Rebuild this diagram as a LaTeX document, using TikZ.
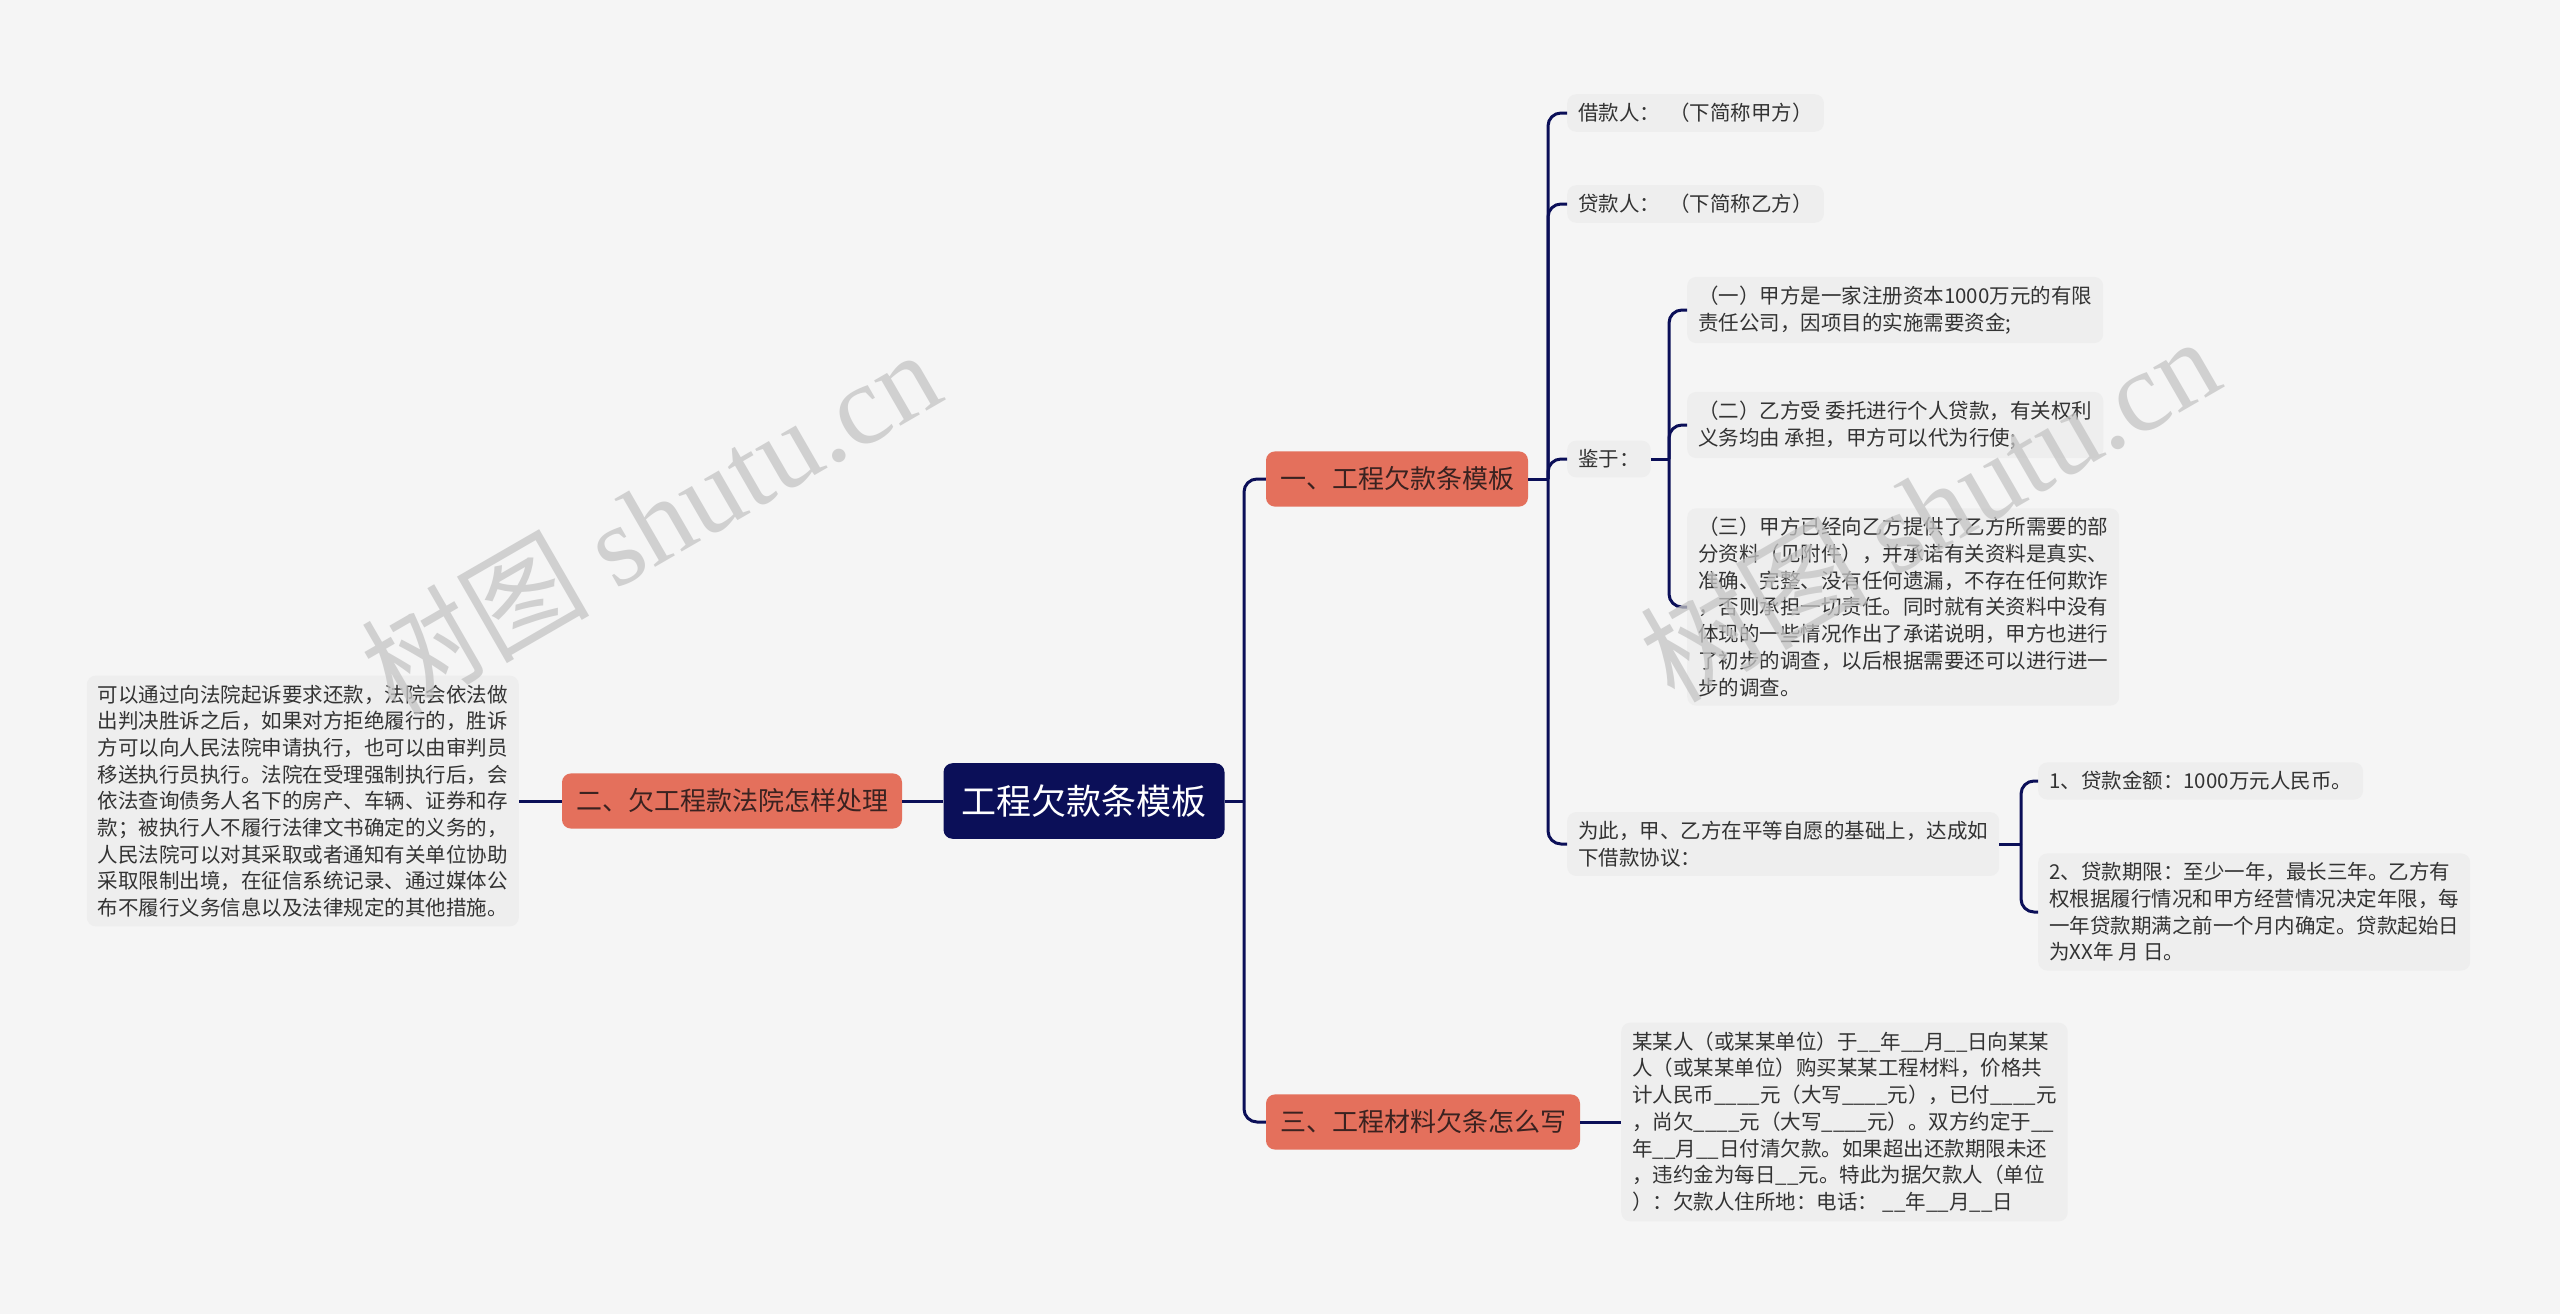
\documentclass[tikz,border=0pt]{standalone}
\usepackage{fontspec}
\setmainfont{Noto Sans CJK SC}
\newfontfamily\wmlat{Liberation Serif}
\definecolor{bgc}{HTML}{F5F5F5}
\definecolor{leafc}{HTML}{EEEEEE}
\definecolor{navy}{HTML}{0B0F58}
\definecolor{orng}{HTML}{E4705C}
\definecolor{txt}{HTML}{333333}
\definecolor{txtl1}{HTML}{3A2220}
\definecolor{wmc}{HTML}{C4C4C4}
\begin{document}
\begin{tikzpicture}[x=1pt,y=-1pt,
  leaf/.style={fill=leafc, rounded corners=9, align=left, inner xsep=11, inner ysep=9, font=\fontsize{20.5}{26.7}\selectfont, text=txt, anchor=west},
  lone/.style={fill=orng, rounded corners=9, inner xsep=14, inner ysep=15.5, font=\fontsize{26}{30}\selectfont, text=txtl1},
  rootst/.style={fill=navy, rounded corners=9, text=white, font=\fontsize{35}{40}\selectfont, inner xsep=18, inner ysep=21.5},
  conn/.style={draw=navy, line width=3, rounded corners=13},
  wm/.style={text=wmc, opacity=0.75, font=\fontsize{114}{120}\selectfont, rotate=30}]
\fill[bgc] (0,0) rectangle (2560,1314);
\useasboundingbox (0,0) rectangle (2560,1314);

% root and level 1
\node[rootst] (root) at (1084,801) {工程欠款条模板};
\node[lone] (n1) at (1397,479) {一、工程欠款条模板};
\node[lone] (n2) at (732,801) {二、欠工程款法院怎样处理};
\node[lone] (n3) at (1423,1122) {三、工程材料欠条怎么写};

% left leaf
\node[leaf, anchor=east] (L) at (519,801) {可以通过向法院起诉要求还款，法院会依法做\\出判决胜诉之后，如果对方拒绝履行的，胜诉\\方可以向人民法院申请执行，也可以由审判员\\移送执行员执行。法院在受理强制执行后，会\\依法查询债务人名下的房产、车辆、证券和存\\款；被执行人不履行法律文书确定的义务的，\\人民法院可以对其采取或者通知有关单位协助\\采取限制出境，在征信系统记录、通过媒体公\\布不履行义务信息以及法律规定的其他措施。};

% branch one children
\node[leaf] (a1) at (1567,113) {借款人：\ \ （下简称甲方）};
\node[leaf] (a2) at (1567,204) {贷款人：\ \ （下简称乙方）};
\node[leaf] (a3) at (1567,459) {鉴于：};
\node[leaf] (a4) at (1567,844) {为此，甲、乙方在平等自愿的基础上，达成如\\下借款协议：};

\node[leaf] (b1) at (1687,310) {（一）甲方是一家注册资本1000万元的有限\\责任公司，因项目的实施需要资金;};
\node[leaf] (b2) at (1687,425) {（二）乙方受 委托进行个人贷款，有关权利\\义务均由 承担，甲方可以代为行使;};
\node[leaf] (b3) at (1687,607) {（三）甲方已经向乙方提供了乙方所需要的部\\分资料（见附件），并承诺有关资料是真实、\\准确、完整、没有任何遗漏，不存在任何欺诈\\，否则承担一切责任。同时就有关资料中没有\\体现的一些情况作出了承诺说明，甲方也进行\\了初步的调查，以后根据需要还可以进行进一\\步的调查。};

\node[leaf] (c1) at (2038,781) {1、贷款金额：1000万元人民币。};
\node[leaf] (c2) at (2038,912) {2、贷款期限：至少一年，最长三年。乙方有\\权根据履行情况和甲方经营情况决定年限，每\\一年贷款期满之前一个月内确定。贷款起始日\\为XX年 月 日。};

% branch three leaf
\node[leaf] (d1) at (1621,1122) {某某人（或某某单位）于\_\_年\_\_月\_\_日向某某\\人（或某某单位）购买某某工程材料，价格共\\计人民币\_\_\_\_元（大写\_\_\_\_元），已付\_\_\_\_元\\，尚欠\_\_\_\_元（大写\_\_\_\_元）。双方约定于\_\_\\年\_\_月\_\_日付清欠款。如果超出还款期限未还\\，违约金为每日\_\_元。特此为据欠款人（单位\\）：欠款人住所地：电话：\ \_\_年\_\_月\_\_日};

% connectors
\coordinate (j0) at (1244,801);
\draw[conn] (root.east) -- (j0);
\draw[conn] (j0) |- (n1.west);
\draw[conn] (j0) |- (n3.west);
\draw[conn] (root.west) -- (n2.east);
\draw[conn] (n2.west) -- (L.east);

\coordinate (j1) at (1548,479);
\draw[conn] (n1.east) -- (j1);
\draw[conn] (j1) |- (a1.west);
\draw[conn] (j1) |- (a2.west);
\draw[conn] (j1) |- (a3.west);
\draw[conn] (j1) |- (a4.west);

\coordinate (j2) at (1669,459);
\draw[conn] (a3.east) -- (j2);
\draw[conn] (j2) |- (b1.west);
\draw[conn] (j2) |- (b2.west);
\draw[conn] (j2) |- (b3.west);

\coordinate (j3) at (2021,844);
\draw[conn] (a4.east) -- (j3);
\draw[conn] (j3) |- (c1.west);
\draw[conn] (j3) |- (c2.west);

\draw[conn] (n3.east) -- (d1.west);

% watermarks
\node[wm] (w1) at (650,521) {树图 {\wmlat shutu.cn}};
\node[wm] (w2) at (1929,508) {树图 {\wmlat shutu.cn}};
\end{tikzpicture}
\end{document}
